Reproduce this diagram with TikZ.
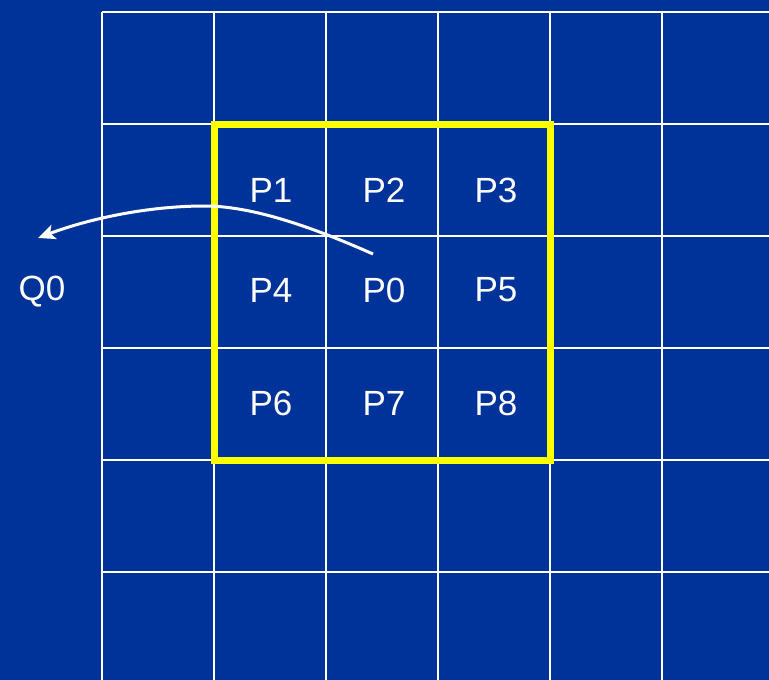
\documentclass[tikz,border=0pt]{standalone}
\usepackage{fontspec}
\setmainfont{Liberation Sans}
\usetikzlibrary{arrows.meta}
\definecolor{bg}{RGB}{0,51,153}
\definecolor{hl}{RGB}{255,255,0}
\begin{document}
\begin{tikzpicture}[x=1pt,y=-1pt,
  gridline/.style={white,line width=2pt},
  lbl/.style={white,font=\fontsize{35}{40}\selectfont,inner sep=0pt},
  hilite/.style={hl,line width=7pt},
  curvearrow/.style={white,line width=3pt,-{Stealth[length=17pt,width=15pt,inset=4pt]}}]
\fill[bg] (0,0) rectangle (769,680);
\useasboundingbox (0,0) rectangle (769,680);
% grid
\foreach \x in {102,214,326,438,550,662} \draw[gridline] (\x,12) -- (\x,680);
\foreach \y in {12,124,236,348,460,572} \draw[gridline] (102,\y) -- (769,\y);
% highlight
\draw[hilite] (214,124) rectangle (550,460);
% labels
\node[lbl] (p1) at (271,190) {P1};
\node[lbl] (p2) at (384,190) {P2};
\node[lbl] (p3) at (496,190) {P3};
\node[lbl] (p4) at (271,290) {P4};
\node[lbl] (p0) at (384,290) {P0};
\node[lbl] (p5) at (496,290) {P5};
\node[lbl] (p6) at (271,403) {P6};
\node[lbl] (p7) at (384,403) {P7};
\node[lbl] (p8) at (496,403) {P8};
\node[lbl] (q0) at (42,292) {Q0};
% arrow
\coordinate (s) at (373,254);
\coordinate (m) at (205,206);
\coordinate (e) at (38,238);
\draw[curvearrow] (s) .. controls (330,235) and (260,206) .. (m)
  .. controls (140,206) and (80,222) .. (e);
\end{tikzpicture}
\end{document}
